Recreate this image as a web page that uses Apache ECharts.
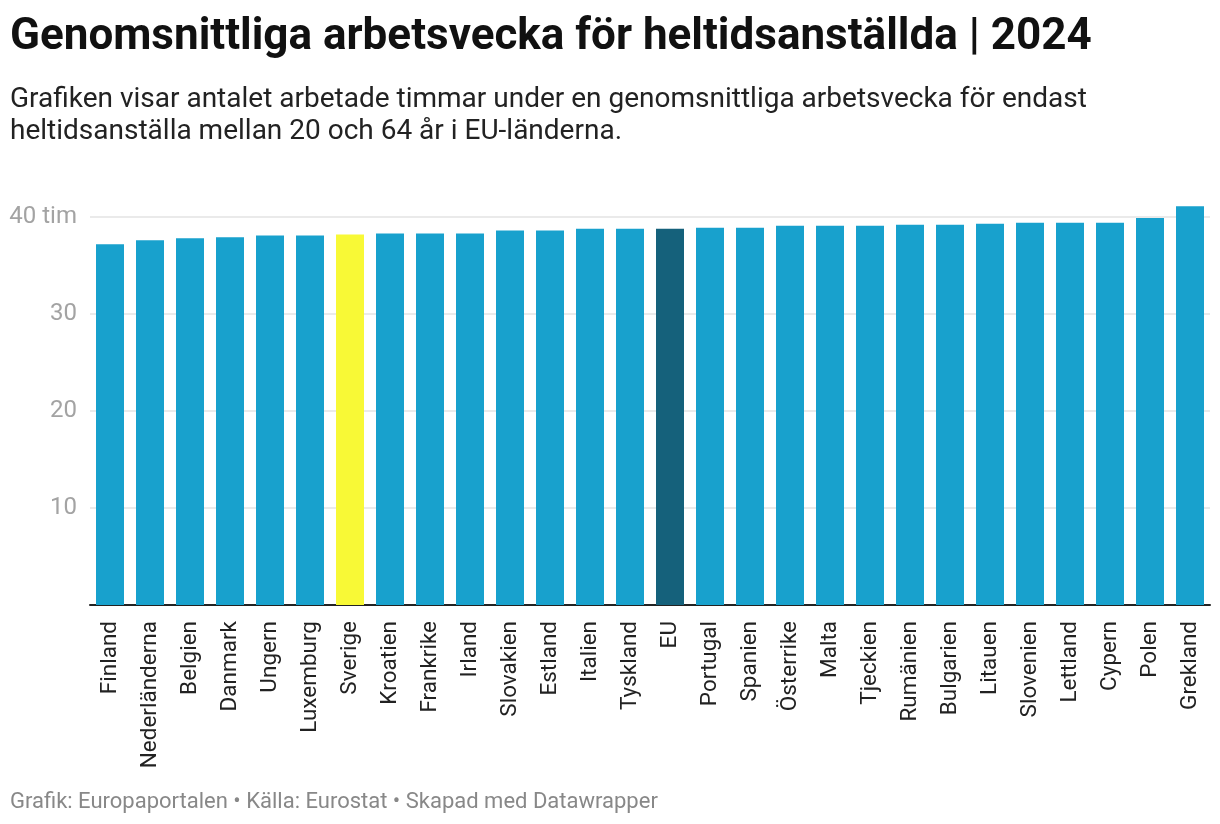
<!DOCTYPE html>
<html>
<head>
<meta charset="utf-8">
<script src="https://cdn.jsdelivr.net/npm/echarts@6/dist/echarts.min.js"></script>
<style>
html,body{margin:0;padding:0;background:#fff;}
#chart{width:1220px;height:824px;}
</style>
</head>
<body>
<div id="chart"></div>
<script>
const categories = ["Finland","Nederländerna","Belgien","Danmark","Ungern","Luxemburg","Sverige","Kroatien","Frankrike","Irland","Slovakien","Estland","Italien","Tyskland","EU","Portugal","Spanien","Österrike","Malta","Tjeckien","Rumänien","Bulgarien","Litauen","Slovenien","Lettland","Cypern","Polen","Grekland"];
const hours = [37.2,37.6,37.8,37.9,38.1,38.1,38.2,38.3,38.3,38.3,38.6,38.6,38.8,38.8,38.8,38.9,38.9,39.1,39.1,39.1,39.2,39.2,39.3,39.4,39.4,39.4,39.9,41.1];
const yTicks = [0,10,20,30,40];

const baseColor = '#18a1cd';
const highlight = {"Sverige":'#f8f936', "EU":'#15617b'};

const chart = echarts.init(document.getElementById('chart'));
chart.setOption({
  backgroundColor:'#fff',
  animation:false,
  textStyle:{fontFamily:'Roboto'},
  title:[
    {text:'Genomsnittliga arbetsvecka för heltidsanställda | 2024', left:10, top:16, padding:0,
     textStyle:{fontFamily:'Roboto', fontWeight:'bold', fontSize:44, color:'#111'}},
    {text:'Grafiken visar antalet arbetade timmar under en genomsnittliga arbetsvecka för endast\nheltidsanställa mellan 20 och 64 år i EU-länderna.', left:10, top:84, padding:0,
     textStyle:{fontFamily:'Roboto', fontWeight:'normal', fontSize:28, lineHeight:32, color:'#222'}},
    {text:'Grafik: Europaportalen • Källa: Eurostat • Skapad med Datawrapper', left:10, top:791, padding:0,
     textStyle:{fontFamily:'Roboto', fontWeight:'normal', fontSize:22, color:'#888'}}
  ],
  grid:{left:90, right:10, top:217, bottom:219, containLabel:false},
  xAxis:{
    type:'category', data:categories,
    axisLine:{lineStyle:{color:'#222', width:2}},
    axisTick:{show:false},
    axisLabel:{rotate:90, interval:0, margin:16, fontSize:22.5, color:'#222', fontFamily:'Roboto'}
  },
  yAxis:{
    type:'value', min:yTicks[0], max:yTicks[yTicks.length-1], interval:10,
    axisLine:{show:false}, axisTick:{show:false},
    splitLine:{lineStyle:{color:'#e3e3e3', width:1.5}},
    axisLabel:{margin:13, fontSize:24, color:'#a3a3a3', fontFamily:'Roboto',
      formatter:function(v){ if(v===0) return ''; return v===40 ? '40 tim' : String(v); },
      align:'right'}
  },
  series:[{
    type:'bar', clip:false, barCategoryGap:'30%',
    data:hours.map((v,i)=>({value:v, itemStyle:{color:highlight[categories[i]]||baseColor}})),
    z:3
  }]
});
</script>
</body>
</html>
